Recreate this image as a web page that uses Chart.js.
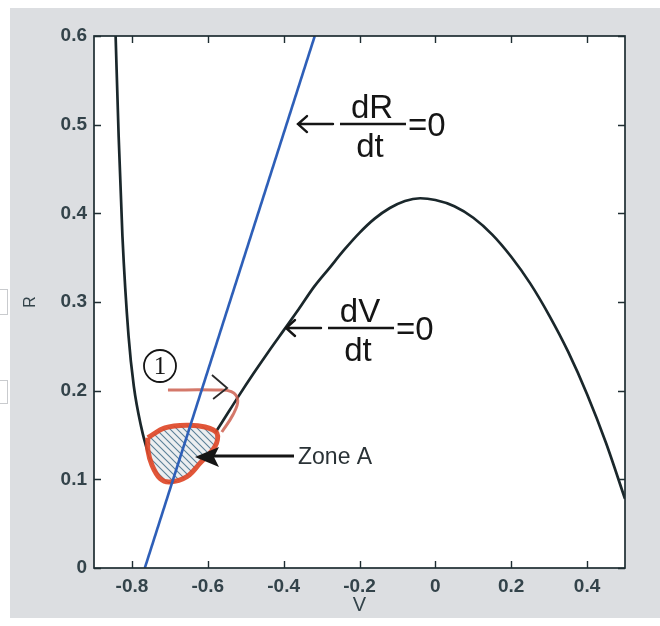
<!DOCTYPE html>
<html><head><meta charset="utf-8">
<style>
html,body{margin:0;padding:0;background:#ffffff;width:660px;height:626px;overflow:hidden;}
#bg{position:absolute;left:10px;top:8px;width:650px;height:610px;background:#dcdee1;}
.box{position:absolute;left:-1px;width:7px;background:#fff;border:1px solid #c9cbce;}
canvas{position:absolute;left:0;top:0;}
</style>
<script src="https://cdn.jsdelivr.net/npm/chart.js@4.4.1/dist/chart.umd.min.js"></script>
</head><body>
<div id="bg"></div>
<div class="box" style="top:289px;height:24px"></div>
<div class="box" style="top:380px;height:22px"></div>
<canvas id="c" width="660" height="626"></canvas>
<script>
// ---- data (V, R) ----
const curveV = [-0.843,-0.835,-0.825,-0.809,-0.795,-0.776,-0.758,-0.737,-0.713,-0.697,-0.680,-0.650,-0.620,-0.590,-0.560,-0.520,-0.480,-0.440,-0.400,-0.360,-0.320,-0.280,-0.240,-0.200,-0.160,-0.120,-0.080,-0.040,0.000,0.050,0.100,0.150,0.200,0.250,0.300,0.350,0.400,0.450,0.500];
const curveR = [0.600,0.487,0.374,0.262,0.205,0.160,0.131,0.111,0.100,0.097,0.100,0.111,0.127,0.146,0.166,0.193,0.219,0.244,0.268,0.292,0.317,0.338,0.359,0.378,0.394,0.406,0.414,0.417,0.415,0.408,0.395,0.376,0.351,0.321,0.285,0.244,0.196,0.141,0.078];
const blueV = [-0.766,-0.318];
const blueR = [0.0,0.6];
const zoneV = [-0.758,-0.713,-0.655,-0.607,-0.576,-0.581,-0.621,-0.655,-0.700,-0.726,-0.747,-0.758,-0.758];
const zoneR = [0.147,0.158,0.161,0.159,0.152,0.137,0.118,0.103,0.097,0.101,0.116,0.133,0.147];
const trajV = [-0.705,-0.581,-0.538,-0.521,-0.534,-0.563];
const trajR = [0.2007,0.2007,0.1990,0.1890,0.1725,0.1534];
const headV = [-0.589,-0.549,-0.586];
const headR = [0.2177,0.2030,0.1906];
const xTicks = [-0.8,-0.6,-0.4,-0.2,0,0.2,0.4];
const xTickLabels = ['-0.8','-0.6','-0.4','-0.2','0','0.2','0.4'];
const yTicks = [0,0.1,0.2,0.3,0.4,0.5,0.6];
const yTickLabels = ['0','0.1','0.2','0.3','0.4','0.5','0.6'];
// annotation anchors (data units)
const fracLabels = [
  {V:-0.3648, R:0.5007, top:'dR', bottom:'dt', right:'=0'},
  {V:-0.3964, R:0.2707, top:'dV', bottom:'dt', right:'=0'}
];
const circleLabel = {V:-0.726, R:0.2278, text:'1'};
const zoneLabel = {V:-0.6337, R:0.1252, text:'Zone A'};

const pts = (xs, ys) => xs.map((v,i)=>({x:v, y:ys[i]}));

function hatch(){
  const n = 7;
  const c = document.createElement('canvas'); c.width = n; c.height = n;
  const g = c.getContext('2d');
  g.fillStyle = '#eceef0'; g.fillRect(0,0,n,n);
  g.strokeStyle = '#5b7f97'; g.lineWidth = 1.1;
  g.beginPath();
  g.moveTo(0,0); g.lineTo(n,n);
  g.moveTo(-2,n-2); g.lineTo(2,n+2);
  g.moveTo(n-2,-2); g.lineTo(n+2,2);
  g.stroke();
  return g.createPattern(c,'repeat');
}

const TXT = '#33434a';
const FRAME = '#1e2d32';
const FONT = '"Liberation Sans", Arial, sans-serif';

const framePlugin = {
  id:'frame',
  beforeDraw(chart){
    const {ctx, chartArea:a} = chart;
    ctx.save(); ctx.fillStyle = '#fff';
    ctx.fillRect(a.left, a.top, a.right-a.left, a.bottom-a.top);
    ctx.restore();
  },
  afterDatasetsDraw(chart){
    const {ctx, chartArea:a, scales:{x, y}} = chart;
    ctx.save();
    ctx.strokeStyle = FRAME; ctx.lineWidth = 1.7;
    ctx.strokeRect(a.left, a.top, a.right-a.left, a.bottom-a.top);
    const tl = 7;
    ctx.lineWidth = 1.4;
    ctx.beginPath();
    xTicks.forEach(v=>{
      const px = Math.round(x.getPixelForValue(v))+0.5;
      ctx.moveTo(px, a.bottom); ctx.lineTo(px, a.bottom-tl);
      ctx.moveTo(px, a.top); ctx.lineTo(px, a.top+tl);
    });
    yTicks.forEach(v=>{
      const py = Math.round(y.getPixelForValue(v))+0.5;
      ctx.moveTo(a.left, py); ctx.lineTo(a.left+tl, py);
      ctx.moveTo(a.right, py); ctx.lineTo(a.right-tl, py);
    });
    ctx.stroke();

    ctx.strokeStyle = '#151515'; ctx.fillStyle = '#151515';
    fracLabels.forEach(f=>{
      const px = x.getPixelForValue(f.V), py = y.getPixelForValue(f.R);
      ctx.lineWidth = 2.4; ctx.lineCap = 'round';
      ctx.beginPath();
      ctx.moveTo(px+36, py); ctx.lineTo(px+1, py);
      ctx.moveTo(px+10, py-8); ctx.lineTo(px+1, py); ctx.lineTo(px+10, py+8);
      ctx.stroke();
      ctx.lineCap = 'butt'; ctx.lineWidth = 2.6;
      ctx.beginPath(); ctx.moveTo(px+43, py); ctx.lineTo(px+109, py); ctx.stroke();
      ctx.font = '33px ' + FONT;
      ctx.textAlign = 'center'; ctx.textBaseline = 'alphabetic';
      ctx.fillText(f.top, px+75, py-6);
      ctx.fillText(f.bottom, px+73, py+33);
      ctx.textAlign = 'left';
      ctx.fillText(f.right, px+111, py+12);
    });

    {
      const px = x.getPixelForValue(circleLabel.V), py = y.getPixelForValue(circleLabel.R);
      ctx.lineWidth = 1.8; ctx.strokeStyle = '#151515';
      ctx.beginPath(); ctx.arc(px, py, 16, 0, Math.PI*2); ctx.stroke();
      ctx.font = '25px "Liberation Serif", "Times New Roman", serif';
      ctx.textAlign = 'center'; ctx.textBaseline = 'middle';
      ctx.fillText(circleLabel.text, px, py+1);
    }

    {
      const px = x.getPixelForValue(zoneLabel.V), py = y.getPixelForValue(zoneLabel.R);
      ctx.fillStyle = '#151515'; ctx.strokeStyle = '#151515';
      ctx.beginPath(); ctx.moveTo(px, py); ctx.lineTo(px+24, py-10); ctx.lineTo(px+19, py); ctx.lineTo(px+24, py+10); ctx.closePath(); ctx.fill();
      ctx.lineWidth = 3;
      ctx.beginPath(); ctx.moveTo(px+16, py-1); ctx.lineTo(px+99, py-1); ctx.stroke();
      ctx.fillStyle = '#2a3236';
      ctx.font = '23px ' + FONT;
      ctx.textAlign = 'left'; ctx.textBaseline = 'middle';
      ctx.fillText(zoneLabel.text, px+103, py+1);
    }
    ctx.restore();
  }
};

const chart = new Chart(document.getElementById('c'), {
  type:'line',
  data:{
    datasets:[
      {label:'dR/dt=0', data:pts(blueV, blueR), borderColor:'#2e5fb8', borderWidth:2.6, pointRadius:0, tension:0, fill:false},
      {label:'arrowhead', data:pts(headV, headR), borderColor:'#2a2a2a', borderWidth:1.8, pointRadius:0, tension:0, fill:false},
      {label:'Zone A', data:pts(zoneV, zoneR), borderColor:'rgba(222,72,40,0.92)', borderWidth:5, pointRadius:0, tension:0.35, fill:'shape', backgroundColor:hatch(), borderJoinStyle:'round'},
      {label:'trajectory', data:pts(trajV, trajR), borderColor:'rgba(204,96,80,0.85)', borderWidth:3, pointRadius:0, tension:0.4, fill:false},
      {label:'dV/dt=0', data:pts(curveV, curveR), borderColor:'#1a272b', borderWidth:2.7, pointRadius:0, cubicInterpolationMode:'monotone', fill:false}
    ]
  },
  options:{
    responsive:false, animation:false, devicePixelRatio:1,
    layout:{padding:{left:0, top:36, right:35, bottom:0}},
    plugins:{legend:{display:false}, tooltip:{enabled:false}},
    scales:{
      x:{type:'linear', min:-0.9, max:0.5,
        afterBuildTicks:s=>{ s.ticks = xTicks.map(v=>({value:v})); },
        afterFit:s=>{ s.height = 58; },
        grid:{display:false, drawTicks:false}, border:{display:false},
        ticks:{padding:7, color:TXT, font:{family:FONT, size:19, weight:'bold'}, callback:(v,i)=>xTickLabels[i], maxRotation:0, autoSkip:false},
        title:{display:true, text:'V', color:TXT, font:{family:FONT, size:20}, padding:{top:0, bottom:9}}
      },
      y:{type:'linear', min:0, max:0.6,
        afterBuildTicks:s=>{ s.ticks = yTicks.map(v=>({value:v})); },
        afterFit:s=>{ s.width = 94; },
        grid:{display:false, drawTicks:false}, border:{display:false},
        ticks:{padding:7, color:TXT, font:{family:FONT, size:19, weight:'bold'}, callback:(v,i)=>yTickLabels[i], autoSkip:false},
        title:{display:true, text:'R', color:TXT, font:{family:FONT, size:16}, padding:{top:21, bottom:0}}
      }
    }
  },
  plugins:[framePlugin]
});
</script>
</body></html>
